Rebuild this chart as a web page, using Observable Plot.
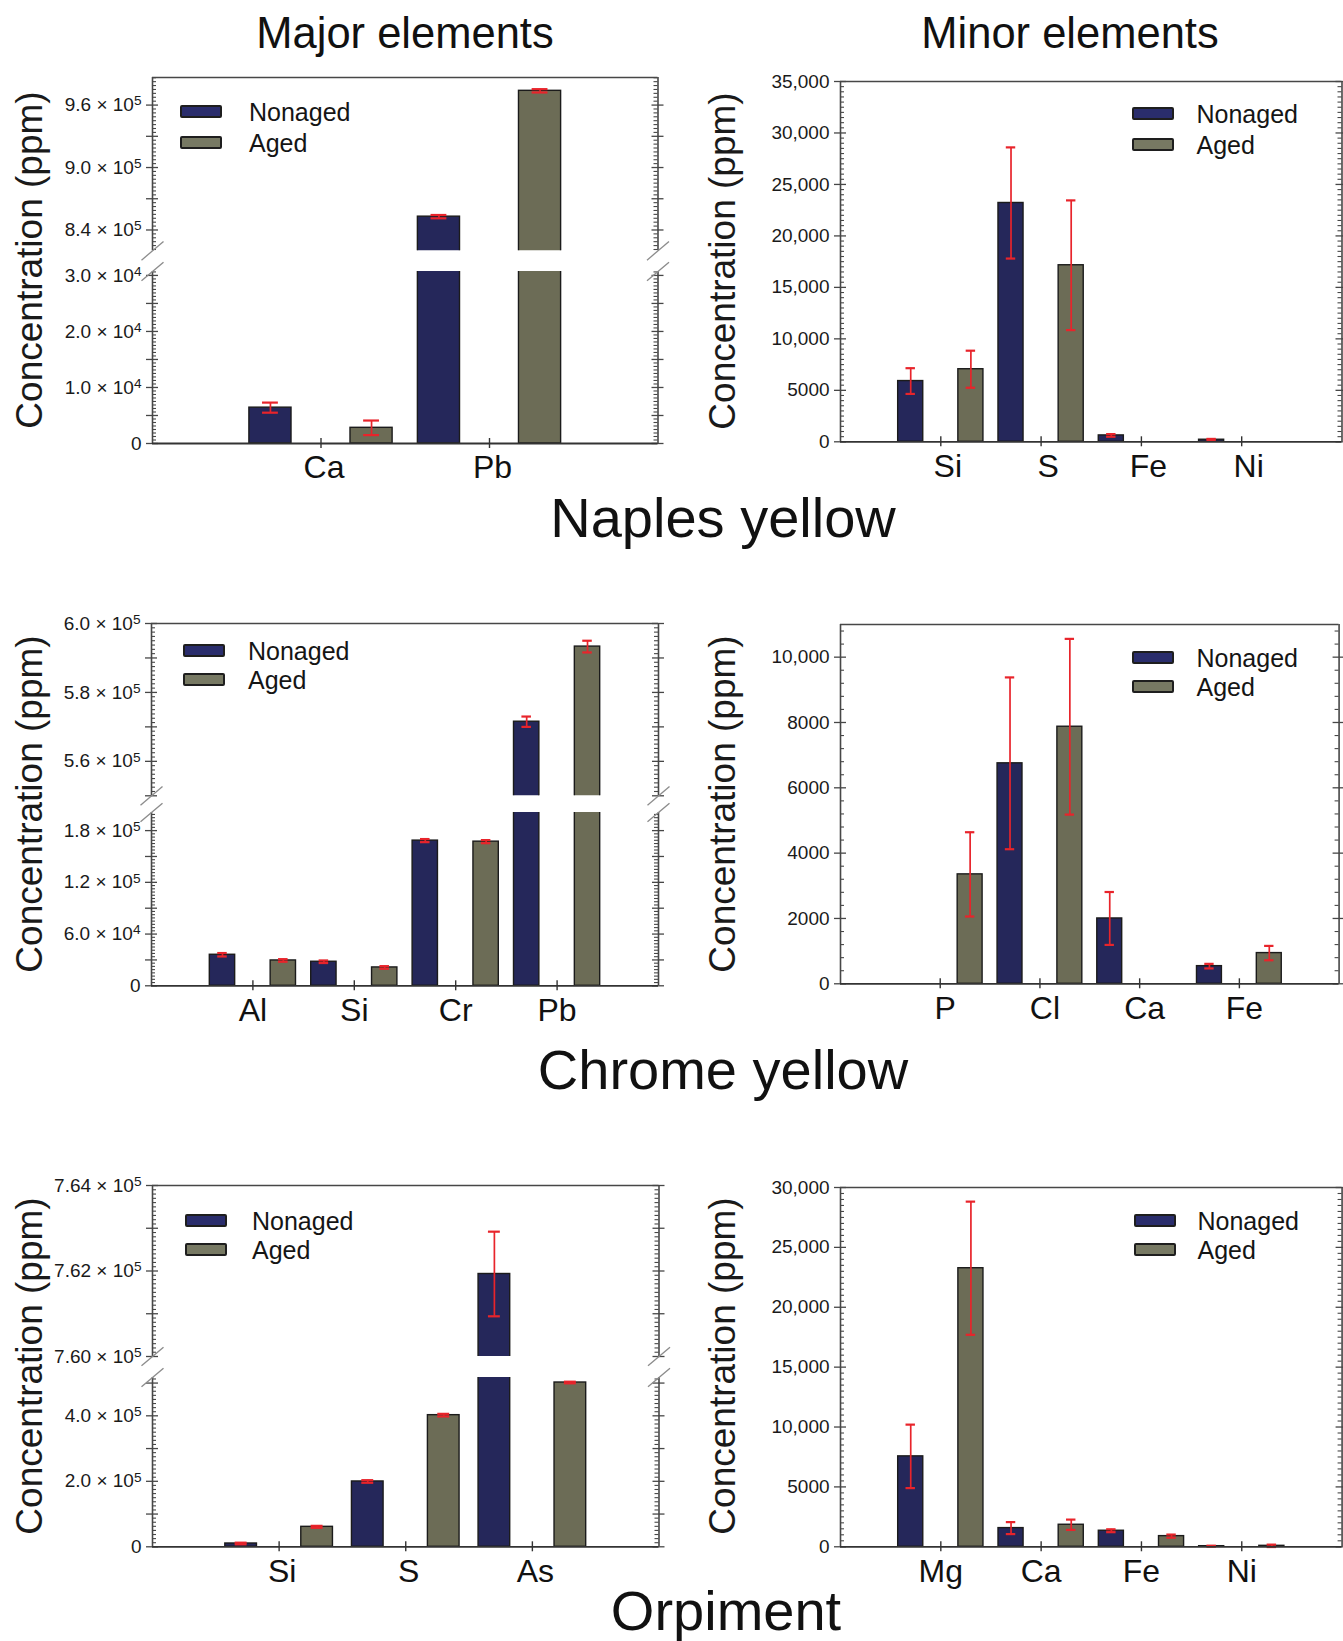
<!DOCTYPE html>
<html>
<head>
<meta charset="utf-8">
<script src="https://cdn.jsdelivr.net/npm/d3@7"></script>
<script src="https://cdn.jsdelivr.net/npm/@observablehq/plot@0.6"></script>
<style>
  body { margin: 0; background: #fff; }
  #root { position: relative; width: 1343px; height: 1641px; overflow: hidden; background: #fff;
          font-family: "Liberation Sans", Arial, Helvetica, sans-serif; }
  .t { position: absolute; white-space: nowrap; color: #111; line-height: 1; }
  .sw { position: absolute; width: 38px; height: 9px; border: 2px solid #1e1e1e; border-radius: 2px; }
</style>
</head>
<body>
<div id="root"></div>
<script>
// ---------------- data ----------------
const series = ["Nonaged", "Aged"];

// Naples yellow – major elements
const naplesMajorEls = ["Ca", "Pb"];
const naplesMajorNonaged = [6400, 852800];
const naplesMajorNonagedErr = [900, 1600];
const naplesMajorAged = [2800, 973700];
const naplesMajorAgedErr = [1300, 1600];
const naplesMajorUpperTicks = [840000, 900000, 960000];
const naplesMajorUpperLabels = ["8.4 × 10⁵", "9.0 × 10⁵", "9.6 × 10⁵"];
const naplesMajorLowerTicks = [0, 10000, 20000, 30000];
const naplesMajorLowerLabels = ["0", "1.0 × 10⁴", "2.0 × 10⁴", "3.0 × 10⁴"];

// Naples yellow – minor elements
const naplesMinorEls = ["Si", "S", "Fe", "Ni"];
const naplesMinorNonaged = [5900, 23200, 620, 200];
const naplesMinorNonagedErr = [1250, 5400, 130, 80];
const naplesMinorAged = [7050, 17150, 0, 0];
const naplesMinorAgedErr = [1800, 6300, 0, 0];
const naplesMinorTicks = [0, 5000, 10000, 15000, 20000, 25000, 30000, 35000];
const naplesMinorLabels = ["0", "5000", "10,000", "15,000", "20,000", "25,000", "30,000", "35,000"];

// Chrome yellow – major elements
const chromeMajorEls = ["Al", "Si", "Cr", "Pb"];
const chromeMajorNonaged = [36000, 27900, 168400, 571500];
const chromeMajorNonagedErr = [2000, 1500, 1800, 1500];
const chromeMajorAged = [29400, 21300, 167200, 593300];
const chromeMajorAgedErr = [1500, 1500, 1800, 1700];
const chromeMajorUpperTicks = [560000, 580000, 600000];
const chromeMajorUpperLabels = ["5.6 × 10⁵", "5.8 × 10⁵", "6.0 × 10⁵"];
const chromeMajorLowerTicks = [0, 60000, 120000, 180000];
const chromeMajorLowerLabels = ["0", "6.0 × 10⁴", "1.2 × 10⁵", "1.8 × 10⁵"];

// Chrome yellow – minor elements
const chromeMinorEls = ["P", "Cl", "Ca", "Fe"];
const chromeMinorNonaged = [0, 6750, 2000, 540];
const chromeMinorNonagedErr = [0, 2630, 810, 70];
const chromeMinorAged = [3350, 7870, 0, 940];
const chromeMinorAgedErr = [1290, 2690, 0, 220];
const chromeMinorTicks = [0, 2000, 4000, 6000, 8000, 10000];
const chromeMinorLabels = ["0", "2000", "4000", "6000", "8000", "10,000"];

// Orpiment – major elements
const orpMajorEls = ["Si", "S", "As"];
const orpMajorNonaged = [10100, 199500, 761930];
const orpMajorNonagedErr = [2500, 4000, 990];
const orpMajorAged = [61000, 402000, 501700];
const orpMajorAgedErr = [3000, 4000, 2500];
const orpMajorUpperTicks = [760000, 762000, 764000];
const orpMajorUpperLabels = ["7.60 × 10⁵", "7.62 × 10⁵", "7.64 × 10⁵"];
const orpMajorLowerTicks = [0, 200000, 400000];
const orpMajorLowerLabels = ["0", "2.0 × 10⁵", "4.0 × 10⁵"];

// Orpiment – minor elements
const orpMinorEls = ["Mg", "Ca", "Fe", "Ni"];
const orpMinorNonaged = [7550, 1560, 1340, 50];
const orpMinorNonagedErr = [2650, 500, 120, 40];
const orpMinorAged = [23260, 1840, 890, 80];
const orpMinorAgedErr = [5560, 430, 130, 100];
const orpMinorTicks = [0, 5000, 10000, 15000, 20000, 25000, 30000];
const orpMinorLabels = ["0", "5000", "10,000", "15,000", "20,000", "25,000", "30,000"];

// ---------------- style ----------------
const NAVY = "#25275a", OLIVE = "#6c6c56", RED = "#e8242b", AX = "#474747";
const SW_NAVY = "#2a2d6c", SW_OLIVE = "#777963";
const FONT = "'Liberation Sans', Arial, Helvetica, sans-serif";
const SUP = {"⁰": "0", "¹": "1", "²": "2", "³": "3", "⁴": "4", "⁵": "5", "⁶": "6", "⁷": "7", "⁸": "8", "⁹": "9"};
const root = document.getElementById("root");

const slash = {
  draw(ctx, size) {
    const r = Math.sqrt(size / Math.PI);
    ctx.moveTo(-r, r * 0.85);
    ctx.lineTo(r, -r * 0.85);
  }
};

// render "10⁵" style exponents as raised tspans (text stays real text)
function raiseExponents(svg) {
  svg.querySelectorAll("text").forEach(t => {
    const s = t.textContent;
    const m = s.match(/^(.*10)([⁰¹²³⁴⁵⁶⁷⁸⁹]+)$/);
    if (!m) return;
    while (t.firstChild) t.removeChild(t.firstChild);
    t.appendChild(document.createTextNode(m[1]));
    const ts = document.createElementNS("http://www.w3.org/2000/svg", "tspan");
    ts.setAttribute("dy", "-0.42em");
    ts.setAttribute("font-size", "0.72em");
    ts.textContent = [...m[2]].map(c => SUP[c]).join("");
    t.appendChild(ts);
  });
}

function segment(cfg) {
  const {els, nonaged, nonagedErr, aged, agedErr, domain, ticks, labels, majorStep, minorStep, box, type, labelDx = 0} = cfg;
  const [fx0, fy0, fx1, fy1] = box;
  const fw = fx1 - fx0, fh = fy1 - fy0;
  const showX = type !== "upper";
  const mL = 130, mR = 26, mT = 16, mB = showX ? 60 : 16;
  const n = els.length;
  const xd = [-1, n];
  const rows = els.flatMap((el, i) => [
    {i, series: series[0], off: -0.3, v: nonaged[i], e: nonagedErr[i]},
    {i, series: series[1], off: 0.3, v: aged[i], e: agedErr[i]}
  ]);
  const bars = rows.filter(d => d.v > 0 && d.v > domain[0]);
  const errs = rows.filter(d => d.e > 0 && d.v >= domain[0] && d.v <= domain[1]);
  const eps = 1e-6;
  const major = d3.range(Math.ceil(domain[0] / majorStep - eps) * majorStep, domain[1] + eps, majorStep);
  const minor = d3.range(Math.ceil(domain[0] / minorStep - eps) * minorStep, domain[1] + eps, minorStep)
    .filter(v => !major.some(m => Math.abs(m - v) < eps));
  const labelOf = new Map(ticks.map((t, k) => [t, labels[k]]));
  const cx = d => d.i + d.off;

  const marks = [
    Plot.rect(bars, {x1: d => cx(d) - 0.125, x2: d => cx(d) + 0.125, y1: d => 0, y2: d => d.v,
      fill: "series", stroke: "#1b1b1b", strokeWidth: 1.4, clip: true}),
    Plot.ruleX(errs, {x: cx, y1: d => d.v - d.e, y2: d => d.v + d.e, stroke: RED, strokeWidth: 1.7}),
    Plot.ruleY(errs, {y: d => d.v + d.e, x1: d => cx(d) - 0.047, x2: d => cx(d) + 0.047, stroke: RED, strokeWidth: 2.2}),
    Plot.ruleY(errs, {y: d => d.v - d.e, x1: d => cx(d) - 0.047, x2: d => cx(d) + 0.047, stroke: RED, strokeWidth: 2.2}),
    Plot.ruleX(xd, {stroke: AX, strokeWidth: 1.6}),
    Plot.tickY(major, {y: d => d, insetRight: fw - 12, dx: -6, stroke: AX, strokeWidth: 1.3}),
    Plot.tickY(major, {y: d => d, insetLeft: fw - 12, dx: 6, stroke: AX, strokeWidth: 1.3}),
    Plot.tickY(minor, {y: d => d, insetRight: fw - 4, stroke: AX, strokeWidth: 1.1}),
    Plot.tickY(minor, {y: d => d, insetLeft: fw - 4, stroke: AX, strokeWidth: 1.1}),
    Plot.axisY(ticks, {anchor: "left", tickSize: 0, tickPadding: 11, tickFormat: d => labelOf.get(d),
      fontSize: 19, fill: "#1a1a1a", label: null})
  ];
  if (type !== "lower") marks.push(Plot.ruleY([domain[1]], {stroke: AX, strokeWidth: 1.6}));
  if (type !== "upper") {
    marks.push(Plot.ruleY([domain[0]], {stroke: "#333", strokeWidth: 1.8}));
    marks.push(Plot.tickX(d3.range(n), {x: d => d, insetTop: fh - 10, dy: 5, stroke: "#333", strokeWidth: 1.4}));
    marks.push(Plot.axisX(d3.range(n), {tickSize: 0, tickPadding: 12, tickFormat: i => els[i],
      fontSize: 32, fill: "#111", label: null, dx: labelDx}));
  }
  if (type === "upper" || type === "lower") {
    const yb = type === "upper" ? domain[0] : domain[1];
    marks.push(Plot.dot(xd, {x: d => d, y: () => yb, r: 11, symbol: slash, stroke: "#8c8c8c",
      strokeWidth: 1.3, fill: "none"}));
  }

  const svg = Plot.plot({
    width: fw + mL + mR, height: fh + mT + mB,
    marginLeft: mL, marginRight: mR, marginTop: mT, marginBottom: mB,
    x: showX ? {domain: xd} : {domain: xd, axis: null},
    y: {domain, axis: null},
    color: {domain: series, range: [NAVY, OLIVE]},
    style: {background: "transparent", overflow: "visible", fontFamily: FONT, maxWidth: "none"},
    marks
  });
  raiseExponents(svg);
  svg.style.position = "absolute";
  svg.style.left = (fx0 - mL) + "px";
  svg.style.top = (fy0 - mT) + "px";
  root.appendChild(svg);
}

function label(str, x, baseline, size, opts = {}) {
  const el = document.createElement("div");
  el.className = "t";
  el.textContent = str;
  el.style.fontSize = size + "px";
  el.style.left = x + "px";
  el.style.top = (baseline - 0.8465 * size) + "px";
  if (opts.center) el.style.transform = "translateX(-50%)";
  root.appendChild(el);
  return el;
}

function yTitle(cx, cy) {
  const el = document.createElement("div");
  el.className = "t";
  el.textContent = "Concentration (ppm)";
  el.style.fontSize = "37px";
  el.style.left = cx + "px";
  el.style.top = cy + "px";
  el.style.color = "#1a1a1a";
  el.style.transform = "translate(-50%, -50%) rotate(-90deg)";
  root.appendChild(el);
}

function legend(swx, swy1, swy2, tx) {
  [[SW_NAVY, swy1, series[0]], [SW_OLIVE, swy2, series[1]]].forEach(([c, y, s]) => {
    const sw = document.createElement("div");
    sw.className = "sw";
    sw.style.left = swx + "px";
    sw.style.top = y + "px";
    sw.style.background = c;
    root.appendChild(sw);
    const t = document.createElement("div");
    t.className = "t";
    t.textContent = s;
    t.style.fontSize = "25px";
    t.style.left = tx + "px";
    t.style.top = (y + 7.5 - 12.5) + "px";
    t.style.color = "#151515";
    root.appendChild(t);
  });
}

// ---------------- panels ----------------
const nm = {els: naplesMajorEls, nonaged: naplesMajorNonaged, nonagedErr: naplesMajorNonagedErr,
  aged: naplesMajorAged, agedErr: naplesMajorAgedErr};
segment({...nm, type: "upper", box: [152, 76.7, 657.5, 250], domain: [820000, 986500],
  ticks: naplesMajorUpperTicks, labels: naplesMajorUpperLabels, majorStep: 30000, minorStep: 3750});
segment({...nm, type: "lower", box: [152, 270.7, 657.5, 442.7], domain: [0, 30700], labelDx: 3,
  ticks: naplesMajorLowerTicks, labels: naplesMajorLowerLabels, majorStep: 5000, minorStep: 625});

segment({els: naplesMinorEls, nonaged: naplesMinorNonaged, nonagedErr: naplesMinorNonagedErr,
  aged: naplesMinorAged, agedErr: naplesMinorAgedErr, type: "full", box: [839.5, 80.7, 1341, 441], labelDx: 7,
  domain: [0, 35000], ticks: naplesMinorTicks, labels: naplesMinorLabels, majorStep: 5000, minorStep: 500});

const cm = {els: chromeMajorEls, nonaged: chromeMajorNonaged, nonagedErr: chromeMajorNonagedErr,
  aged: chromeMajorAged, agedErr: chromeMajorAgedErr};
segment({...cm, type: "upper", box: [151, 622.7, 658, 795], domain: [550000, 600000],
  ticks: chromeMajorUpperTicks, labels: chromeMajorUpperLabels, majorStep: 10000, minorStep: 1250});
segment({...cm, type: "lower", box: [151, 811.7, 658, 985], domain: [0, 201000],
  ticks: chromeMajorLowerTicks, labels: chromeMajorLowerLabels, majorStep: 30000, minorStep: 3750});

segment({els: chromeMinorEls, nonaged: chromeMinorNonaged, nonagedErr: chromeMinorNonagedErr,
  aged: chromeMinorAged, agedErr: chromeMinorAgedErr, type: "full", box: [839.8, 624, 1338.4, 983.3], labelDx: 5,
  domain: [0, 11000], ticks: chromeMinorTicks, labels: chromeMinorLabels, majorStep: 2000, minorStep: 400});

const om = {els: orpMajorEls, nonaged: orpMajorNonaged, nonagedErr: orpMajorNonagedErr,
  aged: orpMajorAged, agedErr: orpMajorAgedErr};
segment({...om, type: "upper", box: [152, 1185, 658.5, 1356], domain: [760000, 764000],
  ticks: orpMajorUpperTicks, labels: orpMajorUpperLabels, majorStep: 1000, minorStep: 100});
segment({...om, type: "lower", box: [152, 1376.7, 658.5, 1546], domain: [0, 517000], labelDx: 3,
  ticks: orpMajorLowerTicks, labels: orpMajorLowerLabels, majorStep: 100000, minorStep: 12500});

segment({els: orpMinorEls, nonaged: orpMinorNonaged, nonagedErr: orpMinorNonagedErr,
  aged: orpMinorAged, agedErr: orpMinorAgedErr, type: "full", box: [839.7, 1186.7, 1341.3, 1546],
  domain: [0, 30000], ticks: orpMinorTicks, labels: orpMinorLabels, majorStep: 5000, minorStep: 500});

// ---------------- titles, axis titles, legends ----------------
label("Major elements", 405, 49, 43.5, {center: true});
label("Minor elements", 1070, 49, 43.5, {center: true});
label("Naples yellow", 723, 537, 56, {center: true});
label("Chrome yellow", 723, 1089, 56, {center: true});
label("Orpiment", 726, 1630, 56, {center: true});

yTitle(29, 259.7); yTitle(722, 260.9);
yTitle(29, 803.9); yTitle(722, 803.7);
yTitle(29, 1365.5); yTitle(722, 1366.4);

legend(180, 105, 136, 249);
legend(1131.6, 107, 137.5, 1196.5);
legend(183, 644, 673, 248);
legend(1131.6, 651, 680, 1196.5);
legend(185, 1214, 1243, 252);
legend(1134, 1214, 1243, 1197.5);
</script>
</body>
</html>
